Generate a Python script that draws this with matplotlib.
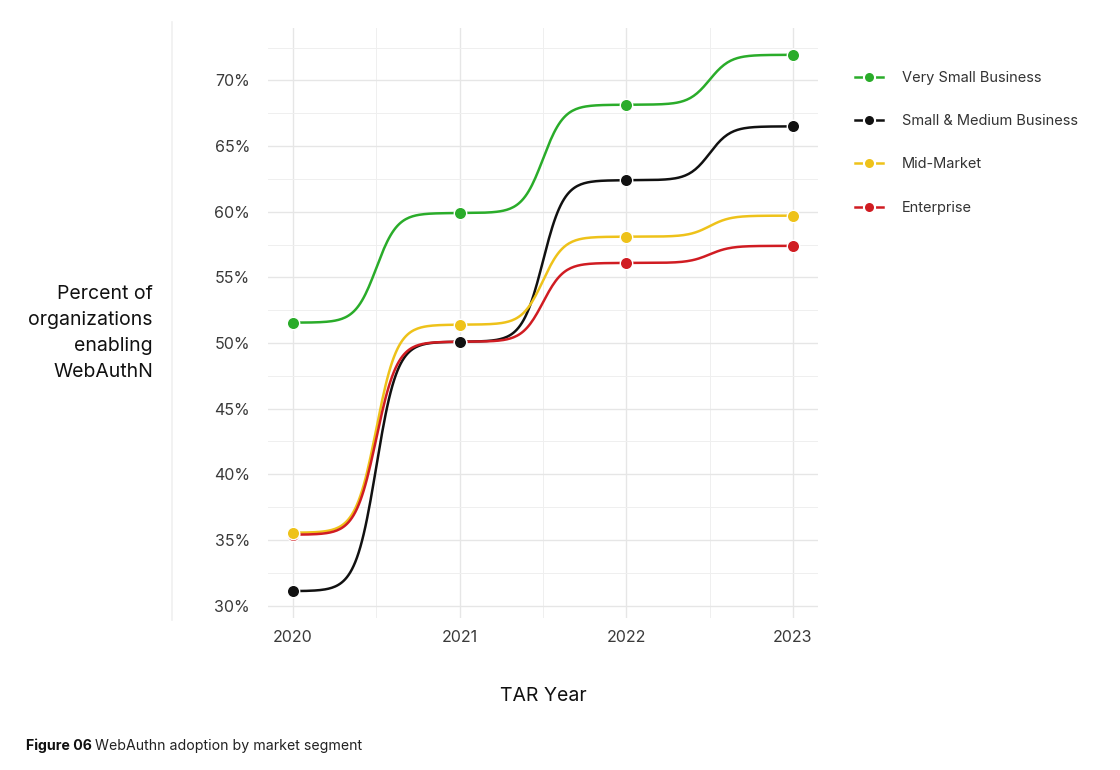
import numpy as np
import matplotlib
matplotlib.use("Agg")
import matplotlib.pyplot as plt
from matplotlib.lines import Line2D
from matplotlib.ticker import FixedLocator

plt.rcParams['font.family'] = ['Inter', 'DejaVu Sans']

years = [2020, 2021, 2022, 2023]
segments = ["Very Small Business", "Small & Medium Business", "Mid-Market", "Enterprise"]
very_small = [51.55, 59.9, 68.15, 71.95]
small_medium = [31.1, 50.1, 62.4, 66.5]
mid_market = [35.55, 51.4, 58.1, 59.7]
enterprise = [35.4, 50.1, 56.1, 57.4]
values = [very_small, small_medium, mid_market, enterprise]
colors = ["#2aac2a", "#111111", "#eec21a", "#d01c22"]
y_ticks = [30, 35, 40, 45, 50, 55, 60, 65, 70]


def bump(xs, ys, smooth=8, n=100):
    out_x, out_y = [], []
    for i in range(len(xs) - 1):
        t = np.linspace(-smooth, smooth, n)
        s = np.exp(t) / (np.exp(t) + 1)
        out_x.append((t + smooth) / (2 * smooth) * (xs[i + 1] - xs[i]) + xs[i])
        out_y.append(s * (ys[i + 1] - ys[i]) + ys[i])
    return np.concatenate(out_x), np.concatenate(out_y)


fig = plt.figure(figsize=(11.2, 7.7), dpi=100)
ax = fig.add_axes([268 / 1120, 1 - 618 / 770, 550 / 1120, 590 / 770])

for vals, c in zip(values, colors):
    cx, cy = bump(years, vals)
    ax.plot(cx, cy, color=c, lw=1.8, zorder=3, solid_capstyle='round')
for vals, c in reversed(list(zip(values, colors))):
    ax.scatter(years, vals, s=80, color=c, edgecolor='white', linewidth=1.0, zorder=4)

ymin, ymax = min(map(min, values)), max(map(max, values))
pad = (ymax - ymin) * 0.05
ax.set_ylim(ymin - pad, ymax + pad)
ax.set_xlim(2020 - 0.15, 2023 + 0.15)

ax.yaxis.set_major_locator(FixedLocator(y_ticks))
ax.yaxis.set_minor_locator(FixedLocator([t + 2.5 for t in y_ticks]))
ax.xaxis.set_major_locator(FixedLocator(years))
ax.xaxis.set_minor_locator(FixedLocator([y + 0.5 for y in years[:-1]]))
ax.set_yticklabels([f"{t}%" for t in y_ticks])
ax.set_xticklabels([str(y) for y in years])

ax.grid(which='major', color='#e6e6e6', lw=1.0, zorder=0)
ax.grid(which='minor', color='#efefef', lw=0.7, zorder=0)
ax.set_axisbelow(True)
for sp in ax.spines.values():
    sp.set_visible(False)
ax.tick_params(which='both', length=0)
ax.tick_params(axis='y', labelsize=11.5, labelcolor='#3a3a3a', pad=13)
ax.tick_params(axis='x', labelsize=11.5, labelcolor='#3a3a3a', pad=9)

ax.set_xlabel("TAR Year", fontsize=14, color='#111111', labelpad=30)
fig.text(153 / 1120, 1 - 333 / 770, "Percent of\norganizations\nenabling\nWebAuthN",
         ha='right', va='center', fontsize=14, color='#111111', linespacing=1.55)

# faint separator line
fig.add_artist(Line2D([172 / 1120, 172 / 1120], [1 - 620 / 770, 1 - 22 / 770],
                      color='#f0f0f0', lw=1.2))

handles = [Line2D([0], [0], color=c, lw=1.8, marker='o', markersize=8,
                  markerfacecolor=c, markeredgecolor='white', markeredgewidth=1.5)
           for c in colors]
leg = fig.legend(handles, segments, loc='upper left', bbox_to_anchor=(842 / 1120, 1 - 58 / 770),
                 frameon=False, fontsize=10.5, handlelength=1.9, handletextpad=1.3,
                 labelspacing=2.0, labelcolor='#333333')

t1 = fig.text(26 / 1120, 1 - 746 / 770, "Figure 06", fontsize=10.2, fontweight='bold',
              va='center', ha='left', color='#111111')
fig.canvas.draw()
w = t1.get_window_extent(fig.canvas.get_renderer()).width
fig.text(26 / 1120 + (w + 3) / 1120, 1 - 746 / 770, "WebAuthn adoption by market segment",
         fontsize=10.2, va='center', ha='left', color='#222222')

fig.savefig("out.png", dpi=100, facecolor='white')
